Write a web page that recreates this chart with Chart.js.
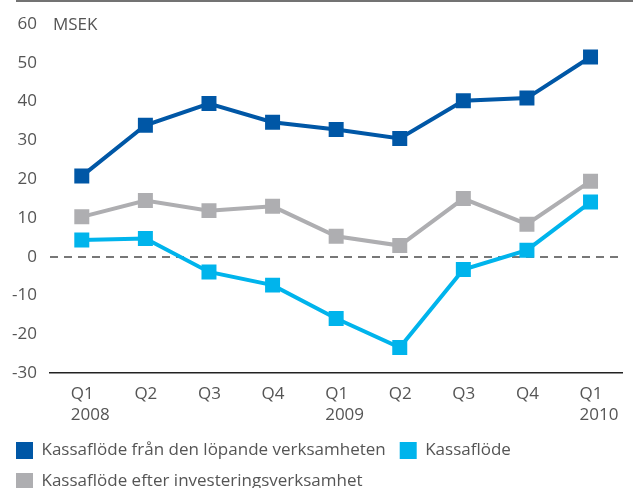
<!DOCTYPE html>
<html>
<head>
<meta charset="utf-8">
<script src="https://cdn.jsdelivr.net/npm/chart.js@4"></script>
<style>
  html, body { margin: 0; padding: 0; background: #fff; overflow: hidden; }
  #wrap { width: 633px; height: 500px; position: relative; }
</style>
</head>
<body>
<div id="wrap"><canvas id="lineChart"></canvas></div>
<script>
// LINE CHART - kassaflöde per kvartal

var quarters = ['Q1', 'Q2', 'Q3', 'Q4', 'Q1', 'Q2', 'Q3', 'Q4', 'Q1'];
var years = ['2008', '', '', '', '2009', '', '', '', '2010'];

var lopande = [20.8, 33.9, 39.5, 34.7, 32.8, 30.5, 40.2, 40.9, 51.5];
var kassaflode = [4.3, 4.7, -3.9, -7.3, -15.9, -23.4, -3.3, 1.7, 14.1];
var efterInvest = [10.3, 14.5, 11.9, 13.0, 5.3, 2.9, 15.0, 8.4, 19.5];

var yTicks = [-30, -20, -10, 0, 10, 20, 30, 40, 50, 60];
var unitLabel = 'MSEK';

Chart.defaults.font.family = '"Open Sans", "Noto Sans", sans-serif';
Chart.defaults.font.size = 17;
Chart.defaults.color = '#555';

// unit text next to the top tick + thin rule at the top of the page
var extras = {
    id: 'extras',
    afterDraw: function (chart) {
        var c = chart.ctx;
        var y = chart.scales.y;
        c.save();
        c.fillStyle = '#555';
        c.font = '17px "Open Sans", "Noto Sans", sans-serif';
        c.textAlign = 'left';
        c.textBaseline = 'middle';
        c.fillText(unitLabel, chart.chartArea.left + 3, y.getPixelForValue(yTicks[yTicks.length - 1]) + 1);
        c.strokeStyle = '#444';
        c.lineWidth = 1.5;
        c.beginPath();
        c.moveTo(16, 1);
        c.lineTo(chart.width, 1);
        c.stroke();
        c.restore();
    }
};

function series(label, data, color) {
    return {
        label: label,
        data: data,
        borderColor: color,
        backgroundColor: color,
        borderWidth: 4,
        pointStyle: 'rect',
        pointRadius: 10.6,
        pointHoverRadius: 10.6,
        pointBorderWidth: 0,
        pointBackgroundColor: color,
        tension: 0
    };
}

var ctx = document.getElementById('lineChart');

var myLineChart = new Chart(ctx, {
    type: 'line',
    data: {
        labels: quarters.map(function (q, i) { return [q, years[i]]; }),
        datasets: [
            series('Kassaflöde från den löpande verksamheten', lopande, '#0057a6'),
            series('Kassaflöde', kassaflode, '#00b4ec'),
            series('Kassaflöde efter investeringsverksamhet', efterInvest, '#aeaeb1')
        ]
    },
    plugins: [extras],
    options: {
        responsive: true,
        maintainAspectRatio: false,
        devicePixelRatio: 1,
        animation: false,
        events: [],
        layout: { padding: { left: 2, right: 0, top: 24, bottom: 0 } },
        plugins: {
            tooltip: { enabled: false },
            legend: {
                position: 'bottom',
                align: 'start',
                labels: {
                    boxWidth: 17,
                    boxHeight: 17,
                    padding: 14,
                    color: '#555',
                    font: { size: 17 },
                    generateLabels: function (chart) {
                        var items = Chart.defaults.plugins.legend.labels.generateLabels(chart);
                        items.forEach(function (it) {
                            it.lineWidth = 0;
                            it.fillStyle = it.strokeStyle;
                        });
                        return items;
                    }
                }
            }
        },
        scales: {
            x: {
                offset: true,
                grid: { display: false },
                border: { display: true, color: '#222', width: 1.5 },
                ticks: {
                    align: 'start',
                    labelOffset: -11,
                    padding: 3,
                    maxRotation: 0,
                    autoSkip: false,
                    color: '#555'
                }
            },
            y: {
                min: yTicks[0],
                max: yTicks[yTicks.length - 1],
                afterFit: function (scale) { scale.width = 48; },
                border: { display: false, dash: [8, 6] },
                grid: {
                    drawTicks: false,
                    color: '#777',
                    lineWidth: function (c) { return c.tick && c.tick.value === 0 ? 2 : 0; }
                },
                ticks: {
                    stepSize: 10,
                    padding: 13,
                    color: '#555'
                }
            }
        }
    }
});
</script>
</body>
</html>
